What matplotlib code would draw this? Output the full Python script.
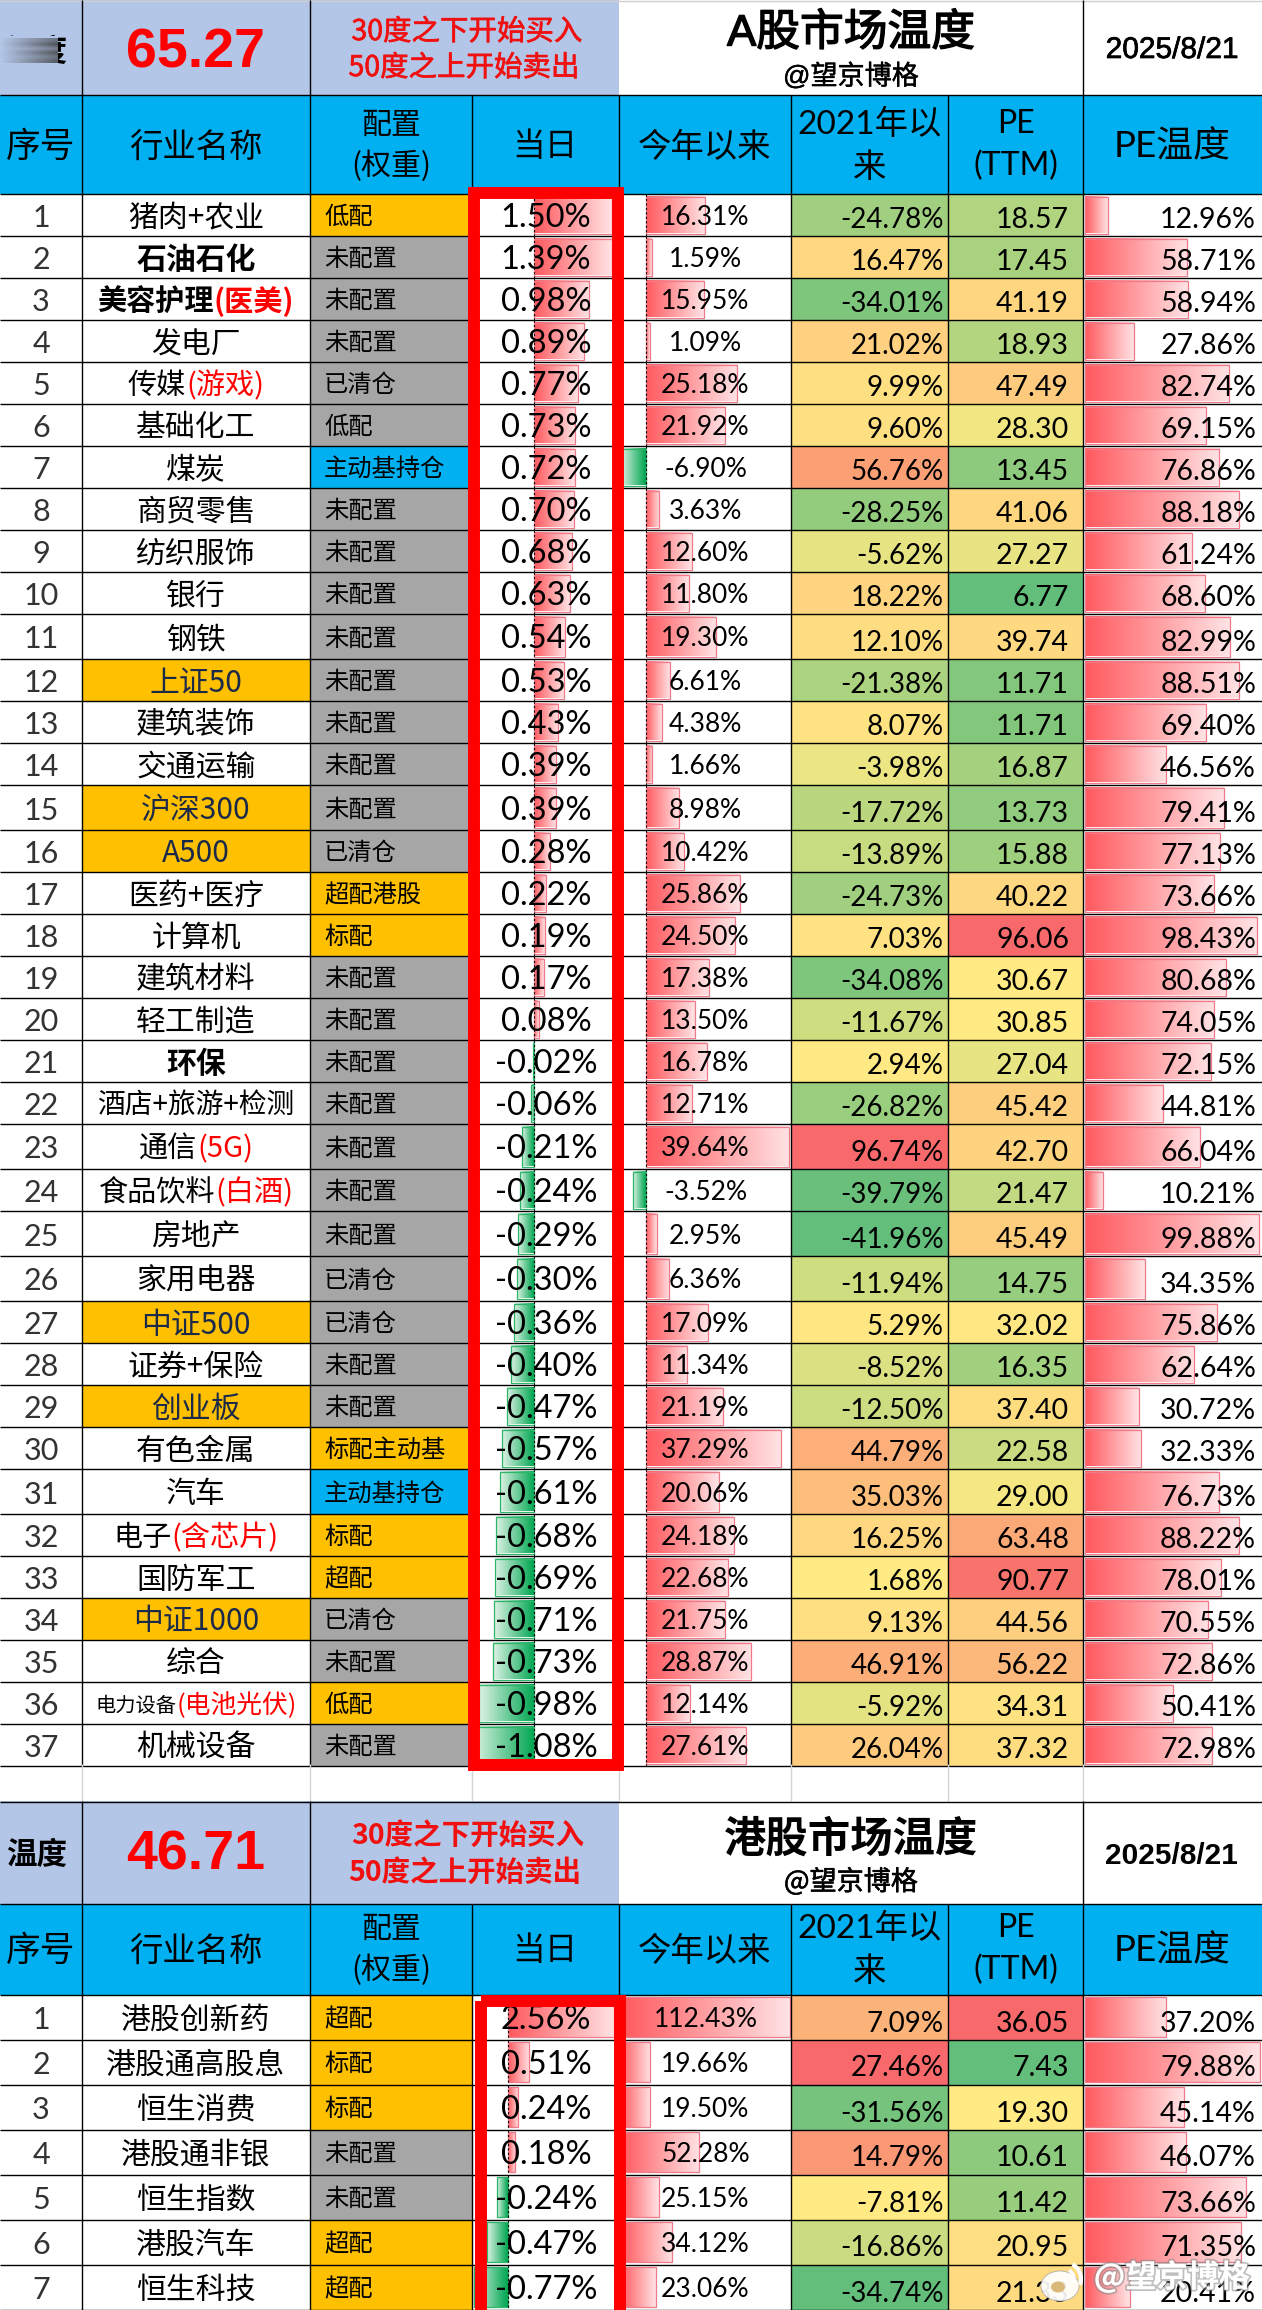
#! /usr/bin/env python

import numpy as np
import matplotlib
matplotlib.use('Agg')
import matplotlib.pyplot as plt
import matplotlib.patheffects as pe
from matplotlib.colors import LinearSegmentedColormap, TwoSlopeNorm, to_rgb
from matplotlib.patches import Rectangle, Ellipse, Arc

### data: A shares
a_names = ['猪肉+农业', '石油石化', '美容护理', '发电厂', '传媒', '基础化工', '煤炭', '商贸零售', '纺织服饰', '银行',
           '钢铁', '上证50', '建筑装饰', '交通运输', '沪深300', 'A500', '医药+医疗', '计算机', '建筑材料', '轻工制造',
           '环保', '酒店+旅游+检测', '通信', '食品饮料', '房地产', '家用电器', '中证500', '证券+保险', '创业板', '有色金属',
           '汽车', '电子', '国防军工', '中证1000', '综合', '电力设备', '机械设备']
a_red = {2: '(医美)', 4: '(游戏)', 22: '(5G)', 23: '(白酒)', 31: '(含芯片)', 35: '(电池光伏)'}
a_bold = [1, 2, 20]
a_index_rows = [11, 14, 15, 26, 28, 33]
a_config = ['低配', '未配置', '未配置', '未配置', '已清仓', '低配', '主动基持仓', '未配置', '未配置', '未配置',
            '未配置', '未配置', '未配置', '未配置', '未配置', '已清仓', '超配港股', '标配', '未配置', '未配置',
            '未配置', '未配置', '未配置', '未配置', '未配置', '已清仓', '已清仓', '未配置', '未配置', '标配主动基',
            '主动基持仓', '标配', '超配', '已清仓', '未配置', '低配', '未配置']
a_config_col = ['o', 'g', 'g', 'g', 'g', 'g', 'b', 'g', 'g', 'g',
                'g', 'g', 'g', 'g', 'g', 'g', 'o', 'o', 'g', 'g',
                'g', 'g', 'g', 'g', 'g', 'g', 'g', 'g', 'g', 'o',
                'b', 'o', 'o', 'g', 'g', 'o', 'g']
a_day = [1.50, 1.39, 0.98, 0.89, 0.77, 0.73, 0.72, 0.70, 0.68, 0.63, 0.54, 0.53, 0.43, 0.39, 0.39, 0.28, 0.22, 0.19, 0.17,
         0.08, -0.02, -0.06, -0.21, -0.24, -0.29, -0.30, -0.36, -0.40, -0.47, -0.57, -0.61, -0.68, -0.69, -0.71, -0.73,
         -0.98, -1.08]
a_ytd = [16.31, 1.59, 15.95, 1.09, 25.18, 21.92, -6.90, 3.63, 12.60, 11.80, 19.30, 6.61, 4.38, 1.66, 8.98, 10.42, 25.86,
         24.50, 17.38, 13.50, 16.78, 12.71, 39.64, -3.52, 2.95, 6.36, 17.09, 11.34, 21.19, 37.29, 20.06, 24.18, 22.68,
         21.75, 28.87, 12.14, 27.61]
a_2021 = [-24.78, 16.47, -34.01, 21.02, 9.99, 9.60, 56.76, -28.25, -5.62, 18.22, 12.10, -21.38, 8.07, -3.98, -17.72,
          -13.89, -24.73, 7.03, -34.08, -11.67, 2.94, -26.82, 96.74, -39.79, -41.96, -11.94, 5.29, -8.52, -12.50, 44.79,
          35.03, 16.25, 1.68, 9.13, 46.91, -5.92, 26.04]
a_pe = [18.57, 17.45, 41.19, 18.93, 47.49, 28.30, 13.45, 41.06, 27.27, 6.77, 39.74, 11.71, 11.71, 16.87, 13.73, 15.88,
        40.22, 96.06, 30.67, 30.85, 27.04, 45.42, 42.70, 21.47, 45.49, 14.75, 32.02, 16.35, 37.40, 22.58, 29.00, 63.48,
        90.77, 44.56, 56.22, 34.31, 37.32]
a_temp = [12.96, 58.71, 58.94, 27.86, 82.74, 69.15, 76.86, 88.18, 61.24, 68.60, 82.99, 88.51, 69.40, 46.56, 79.41, 77.13,
          73.66, 98.43, 80.68, 74.05, 72.15, 44.81, 66.04, 10.21, 99.88, 34.35, 75.86, 62.64, 30.72, 32.33, 76.73, 88.22,
          78.01, 70.55, 72.86, 50.41, 72.98]

### data: HK shares
h_names = ['港股创新药', '港股通高股息', '恒生消费', '港股通非银', '恒生指数', '港股汽车', '恒生科技']
h_config = ['超配', '标配', '标配', '未配置', '未配置', '超配', '超配']
h_config_col = ['o', 'o', 'o', 'g', 'g', 'o', 'o']
h_day = [2.56, 0.51, 0.24, 0.18, -0.24, -0.47, -0.77]
h_ytd = [112.43, 19.66, 19.50, 52.28, 25.15, 34.12, 23.06]
h_2021 = [7.09, 27.46, -31.56, 14.79, -7.81, -16.86, -34.74]
h_pe = [36.05, 7.43, 19.30, 10.61, 11.42, 20.95, 21.33]
h_temp = [37.20, 79.88, 45.14, 46.07, 73.66, 71.35, 20.41]

### layout (pixels)
colx = [0, 82, 310, 472, 619, 791, 948, 1083, 1262]
a_rowh = [42] * 10 + [45] + [42] * 3 + [45] + [42] * 7 + [45] + [42] + [45, 45] + [42] * 4 + [45] + [42] * 6
a_top = 194
h_top = 1994.5
h_rowh = 45

cjk = ['Noto Sans CJK SC', 'DejaVu Sans']
num = ['Lato', 'Noto Sans CJK SC']
narrow = ['Liberation Sans Narrow', 'Lato']
arial = ['Liberation Sans', 'Noto Sans CJK SC']
band = '#B4C6E7'
blue = '#00B0F0'
config_colors = {'o': '#FFC000', 'g': '#A6A6A6', 'b': '#00B0F0'}
scale_cmap = LinearSegmentedColormap.from_list('scale', ['#63BE7B', '#FFEB84', '#F8696B'])

fig = plt.figure(figsize=(12.62, 23.10), dpi=100)
ax = fig.add_axes([0, 0, 1, 1])
ax.set_xlim(0, 1262)
ax.set_ylim(2310, 0)
ax.axis('off')


def rect(x0, y0, x1, y1, color, z=1):
    ax.add_patch(Rectangle((x0, y0), x1 - x0, y1 - y0, facecolor=color, edgecolor='none', zorder=z))


def txt(x, y, s, size, fam=cjk, color='black', weight='normal', ha='center', va='center', z=5, fake=0):
    t = ax.text(x, y, s, fontsize=size, family=fam, color=color, weight=weight, ha=ha, va=va, zorder=z)
    if fake:
        ### thin stroke for the semi bold look of the original
        t.set_path_effects([pe.withStroke(linewidth=fake, foreground=color)])
    return t


def databar(axis_x, end_x, y0, y1, positive=True):
    if positive:
        near, far, edge = '#FF5A5F', '#FFE2E4', '#EE7A8A'
    else:
        near, far, edge = '#00A651', '#DDF2E4', '#2FB56A'
    ramp = np.linspace(0, 1, 64)[None, :, None]
    img = np.array(to_rgb(near))[None, None, :] * (1 - ramp) + np.array(to_rgb(far))[None, None, :] * ramp
    if end_x < axis_x:
        img = img[:, ::-1, :]
    ax.imshow(img, extent=(min(axis_x, end_x), max(axis_x, end_x), y1, y0), aspect='auto', zorder=2,
              interpolation='bilinear')
    ax.add_patch(Rectangle((min(axis_x, end_x), y0), abs(end_x - axis_x), y1 - y0, facecolor='none', edgecolor=edge,
                           lw=0.9, zorder=2.5))


def hline(y, x0=0, x1=1262, color='black'):
    ax.plot([x0, x1], [y, y], color=color, lw=1.0, zorder=3, solid_capstyle='butt')


def vline(x, y0, y1, color='black'):
    ax.plot([x, x], [y0, y1], color=color, lw=1.0, zorder=3, solid_capstyle='butt')


def vline_dash(x, y0, y1):
    ax.plot([x, x], [y0, y1], color='black', lw=0.8, ls=(0, (2, 2)), zorder=2.7)


def header(y_top, y_mid, y_bot, y_line1, y_line2, y_c):
    ### top band + blue header row
    rect(0, y_top, 619, y_mid, band)
    rect(0, y_mid, 1262, y_bot, blue)
    txt(41, y_c, '序号', 25)
    txt(196, y_c, '行业名称', 24)
    txt(391, y_line1 + 1, '配置', 21.5)
    txt(391, y_line2, '(权重)', 21.5)
    txt(545, y_c, '当日', 23.5)
    txt(705, y_c, '今年以来', 24)
    txt(870, y_line1, '2021年以', 24, fam=num)
    txt(870, y_line2 + 2, '来', 24)
    txt(1016, y_line1, 'PE', 23, fam=num)
    txt(1016, y_line2, '(TTM)', 23, fam=num)
    txt(1172, y_c, 'PE温度', 26.5, fam=num)
    hline(y_top + 0.5 if y_top > 0 else 0.5, color='black' if y_top > 0 else '#D0D0D0')
    hline(y_mid)
    hline(y_bot)
    for x in [82, 310]:
        vline(x, y_top, y_bot)
    for x in colx[3:8]:
        vline(x, y_mid, y_bot)
    vline(1083, y_top, y_mid)


def table(tops, heights, names, config, config_col, day, ytd, y2021, pe_ttm, temp, day_axis, day_scale, day_clip,
          ytd_axis, ytd_scale, temp_scale, red={}, bold=[], index_rows=[]):
    norm_2021 = TwoSlopeNorm(vmin=min(y2021), vcenter=np.median(y2021), vmax=max(y2021))
    norm_pe = TwoSlopeNorm(vmin=min(pe_ttm), vcenter=np.median(pe_ttm), vmax=max(pe_ttm))
    renderer = fig.canvas.get_renderer()
    for i in range(len(names)):
        y0 = tops[i]
        y1 = y0 + heights[i]
        yc = (y0 + y1) / 2
        base = y1 - 8
        ytxt = yc + 3

        if i in index_rows:
            rect(82, y0, 310, y1, '#FFC000')
        rect(310, y0, 472, y1, config_colors[config_col[i]])
        rect(791, y0, 948, y1, scale_cmap(norm_2021(y2021[i])))
        rect(948, y0, 1083, y1, scale_cmap(norm_pe(pe_ttm[i])))

        ### data bars
        end = day_axis + day[i] * day_scale
        end = min(max(end, day_clip[0]), day_clip[1])
        databar(day_axis, end, y0 + 2.5, y1 - 2.5, day[i] >= 0)
        databar(ytd_axis, ytd_axis + ytd[i] * ytd_scale, y0 + 2.5, y1 - 2.5, ytd[i] >= 0)
        databar(1085, 1085 + temp[i] * temp_scale, y0 + 2.5, y1 - 2.5, True)
        vline_dash(day_axis, y0, y1)
        vline_dash(ytd_axis, y0, y1)

        ### texts
        txt(41, yc + 12, '%d' % (i + 1), 22, fam=num, color='#333333', va='baseline')
        color = '#1C2A4A' if i in index_rows else 'black'
        weight = 'bold' if i in bold else 'normal'
        if i in red:
            big = 21 if i != 35 else 14.6
            red_size = 21 if i != 35 else 18.5
            t1 = txt(0, ytxt, names[i], big, weight=weight, ha='left')
            t2 = txt(0, ytxt, red[i], red_size, fam=cjk, color='#FF0000',
                     weight='bold' if i == 2 else 'normal', ha='left')
            w1 = t1.get_window_extent(renderer).width
            w2 = t2.get_window_extent(renderer).width
            t1.set_x(196 - (w1 + w2) / 2)
            t2.set_x(196 - (w1 + w2) / 2 + w1)
        else:
            size = 21.5
            if len(names[i]) >= 8:
                size = 20
            txt(196, ytxt, names[i], size, fam=num[::-1] if any(c.isdigit() for c in names[i]) else cjk, color=color,
                weight=weight)
        txt(324, ytxt - 1, config[i], 17.5, ha='left')
        txt(546, yc + 12, '%.2f%%' % day[i], 23.5, fam=num, va='baseline')
        txt(705.5, yc + 10, '%.2f%%' % ytd[i], 19, fam=num, va='baseline')
        txt(943.5, base, '%.2f%%' % y2021[i], 20, fam=narrow, ha='right', va='baseline')
        txt(1069, base, '%.2f' % pe_ttm[i], 20.5, fam=narrow, ha='right', va='baseline')
        txt(1256, base, '%.2f%%' % temp[i], 20.5, fam=narrow, ha='right', va='baseline')

        hline(y1)
        for x in colx[1:8]:
            vline(x, y0, y1)
    ax.set_xlim(0, 1262)
    ax.set_ylim(2310, 0)


### A shares table
a_tops = a_top + np.concatenate([[0], np.cumsum(a_rowh)[:-1]])
header(0, 95, 194, 124, 166, 147)
table(a_tops, a_rowh, a_names, a_config, a_config_col, a_day, a_ytd, a_2021, a_pe, a_temp,
      534, 56.5, (472, 612), 646, 3.62, 1.745, a_red, a_bold, a_index_rows)

txt(37, 52, '温度', 22, weight='bold')
txt(196, 53, '65.27', 40, fam=arial, color='#FF0000', weight='bold')
txt(467, 32, '30度之下开始买入', 20.5, color='#F01010', fake=0.5)
txt(464, 68, '50度之上开始卖出', 20.5, color='#F01010', fake=0.5)
txt(851, 34, 'A股市场温度', 31.5, fam=arial, fake=1.0)
txt(851, 77, '@望京博格', 19.5, fam=arial, fake=0.3)
txt(1172, 50, '2025/8/21', 21.5, fam=arial, fake=0.5)

### blurred corner of the first band
rect(0, 36, 58, 66, band, z=6)
streak = np.zeros((6, 64, 4))
streak[..., :3] = to_rgb('#3A3A3A')
streak[..., 3] = np.linspace(0, 0.85, 64)[None, :] * np.array([0.7, 1.0, 0.6, 0.95, 0.7, 0.9])[:, None]
ax.imshow(streak, extent=(0, 58, 63, 38), aspect='auto', zorder=6.5, interpolation='bilinear')
ax.set_xlim(0, 1262)
ax.set_ylim(2310, 0)

### gap between the two tables
for x in colx[1:8]:
    vline(x, 1764, 1801, color='#D4D4D4')

### HK shares table
h_tops = h_top + h_rowh * np.arange(len(h_names))
header(1801, 1904, 1994.5, 1928, 1970, 1951)
table(h_tops, [h_rowh] * len(h_names), h_names, h_config, h_config_col, h_day, h_ytd, h_2021, h_pe, h_temp,
      507.5, 43, (472, 614), 621, 1.5, 2.19)

txt(37, 1855, '温度', 22, weight='bold')
txt(196, 1856, '46.71', 40, fam=arial, color='#FF0000', weight='bold')
txt(468, 1836, '30度之下开始买入', 20.5, color='#F01010', weight='bold')
txt(465, 1873, '50度之上开始卖出', 20.5, color='#F01010', weight='bold')
txt(851, 1840, '港股市场温度', 30.5, weight='bold')
txt(851, 1882, '@望京博格', 19.5, fake=0.4)
txt(1171, 1855.5, '2025/8/21', 21.5, fam=arial, weight='bold')

### red highlight boxes
ax.add_patch(Rectangle((474, 193), 144, 1572, facecolor='none', edgecolor='#FF0000', lw=8.6, zorder=7))
ax.add_patch(Rectangle((480.5, 2000.5), 139.5, 340, facecolor='none', edgecolor='#FF0000', lw=8.6, zorder=7))

### watermark
stroke = [pe.withStroke(linewidth=2.5, foreground='#88888888')]
mark = txt(1172, 2277, '@望京博格', 22.5, color='white', weight='bold', z=9)
mark.set_path_effects(stroke)
ax.add_patch(Ellipse((1060, 2286), 38, 30, facecolor='white', edgecolor='#AAAAAA', lw=0.6, alpha=0.92, zorder=9))
ax.add_patch(Ellipse((1058, 2287), 14, 11, facecolor='#D9B878', edgecolor='none', zorder=9.5))
ax.add_patch(Arc((1064, 2279), 34, 34, theta1=-60, theta2=20, color='white', lw=3, zorder=9))
ax.add_patch(Arc((1064, 2279), 20, 20, theta1=-60, theta2=20, color='white', lw=2.5, zorder=9))

fig.savefig('out.png', dpi=100)
